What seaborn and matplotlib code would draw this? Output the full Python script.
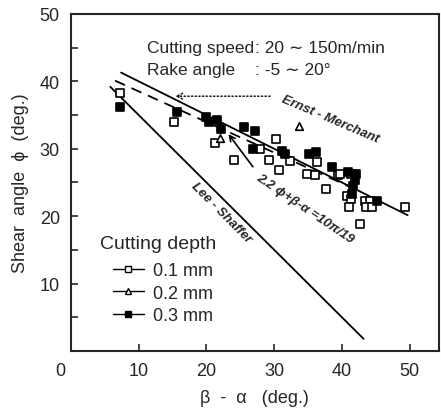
import numpy as np
import pandas as pd
import seaborn as sns
import matplotlib.pyplot as plt
from matplotlib.lines import Line2D

# measured points (beta - alpha, phi) for each cutting depth
x_01 = [7.3, 15.2, 21.2, 24.0, 27.9, 29.2, 30.3, 30.7, 32.3, 36.3, 34.8, 36.0, 37.6,
        39.4, 39.7, 41.4, 40.7, 41.4, 41.0, 43.4, 44.1, 43.6, 44.5, 49.3, 42.6]
y_01 = [38.3, 33.9, 30.9, 28.3, 29.9, 28.4, 31.4, 26.8, 28.2, 28.1, 26.3, 26.1, 24.1,
        26.1, 26.3, 26.3, 23.0, 22.6, 21.3, 22.3, 22.3, 21.3, 21.3, 21.3, 18.8]
x_02 = [33.7, 22.0]
y_02 = [33.4, 31.6]
x_03 = [7.3, 15.7, 19.9, 20.4, 21.6, 22.2, 25.5, 27.1, 26.8, 31.2, 31.6, 35.1, 36.1,
        38.6, 40.9, 42.1, 41.6, 41.9, 41.5, 45.2]
y_03 = [36.2, 35.4, 34.7, 34.0, 34.2, 33.0, 33.2, 32.6, 30.0, 29.7, 29.2, 29.2, 29.5,
        27.3, 26.5, 26.3, 24.5, 25.3, 23.3, 22.3]

depth_labels = ["0.1 mm", "0.2 mm", "0.3 mm"]

# ranges of the theoretical lines
x_ernst = [7.4, 49.7]
x_lee = [5.8, 43.2]
x_new = [6.5, 42.0]

df = pd.DataFrame({
    "x": x_01 + x_02 + x_03,
    "y": y_01 + y_02 + y_03,
    "depth": [depth_labels[0]] * len(x_01) + [depth_labels[1]] * len(x_02)
             + [depth_labels[2]] * len(x_03),
})

sns.set_style("ticks")
plt.rcParams["font.family"] = ["Liberation Sans", "DejaVu Sans"]

fig = plt.figure(figsize=(4.41, 4.10), dpi=100)
ax = fig.add_axes([0.161, 0.1415, 0.834, 0.822])

# theory lines
xe = np.array(x_ernst)
sns.lineplot(x=xe, y=45 - xe / 2, ax=ax, color="black", lw=1.3)
xl = np.array(x_lee)
sns.lineplot(x=xl, y=45 - xl, ax=ax, color="black", lw=1.3)
xn = np.array(x_new)
sns.lineplot(x=xn, y=(10 * 180 / 19 - xn) / 2.2, ax=ax, color="black", lw=1.3,
             linestyle=(0, (6, 4)))

markers = {"0.1 mm": "s", "0.2 mm": "^", "0.3 mm": "s"}
colors = {"0.1 mm": "white", "0.2 mm": "white", "0.3 mm": "black"}
for d in depth_labels:
    sub = df[df["depth"] == d]
    sns.scatterplot(data=sub, x="x", y="y", marker=markers[d], color=colors[d],
                    edgecolor="black", linewidth=1.2, s=30, ax=ax, zorder=3)

ax.set_xlim(0, 54.3)
ax.set_ylim(0, 50)
ax.set_xticks([10, 20, 30, 40, 50])
ax.set_yticks([10, 20, 30, 40, 50])
ax.set_yticks([5, 15, 25, 35, 45], minor=True)
ax.tick_params(direction="in", length=5, width=1.2, labelsize=13, pad=8)
ax.tick_params(which="minor", direction="in", length=5, width=1.2)
for s in ax.spines.values():
    s.set_linewidth(1.5)
ax.text(-0.03, -0.058, "0", transform=ax.transAxes, fontsize=13, ha="center", va="center")

ax.set_xlabel("β  -  α   (deg.)", fontsize=13, labelpad=7)
ax.set_ylabel("Shear  angle  ϕ  (deg.)", fontsize=13, labelpad=8)

ax.text(11.2, 45.0, "Cutting speed", fontsize=12.5, va="center")
ax.text(27.2, 45.0, ": 20 ∼ 150m/min", fontsize=12.5, va="center")
ax.text(11.2, 41.7, "Rake angle", fontsize=12.5, va="center")
ax.text(27.2, 41.7, ": -5 ∼ 20°", fontsize=12.5, va="center")

ax.annotate("", xy=(15.0, 37.8), xytext=(29.8, 37.8),
            arrowprops=dict(arrowstyle="->", linestyle=":", color="black", lw=1))
ax.annotate("", xy=(23.0, 32.5), xytext=(27.1, 27.0),
            arrowprops=dict(arrowstyle="->", color="black", lw=1.2))

ax.text(38.2, 34.4, "Ernst - Merchant", fontsize=9.5, style="italic", rotation=-23,
        ha="center", va="center", weight="bold")
ax.text(34.5, 21.2, "2.2 ϕ+β-α =10π/19", fontsize=9.5, style="italic", rotation=-34,
        ha="center", va="center", weight="bold")
ax.text(22.2, 20.6, "Lee - Shaffer", fontsize=9.5, style="italic", rotation=-45,
        ha="center", va="center", weight="bold")

ax.text(4.3, 15.9, "Cutting depth", fontsize=14, va="center")
handles = [
    Line2D([], [], color="black", lw=1, marker="s", markerfacecolor="white",
           markeredgecolor="black", markersize=4),
    Line2D([], [], color="black", lw=1, marker="^", markerfacecolor="white",
           markeredgecolor="black", markersize=4),
    Line2D([], [], color="black", lw=1, marker="s", markerfacecolor="black",
           markeredgecolor="black", markersize=4),
]
ax.legend(handles, depth_labels, loc="upper left", bbox_to_anchor=(0.114, 0.263),
          frameon=False, fontsize=13, handlelength=1.7, handletextpad=0.5,
          labelspacing=0.3, borderaxespad=0, borderpad=0)

fig.savefig("out.png", dpi=100)
